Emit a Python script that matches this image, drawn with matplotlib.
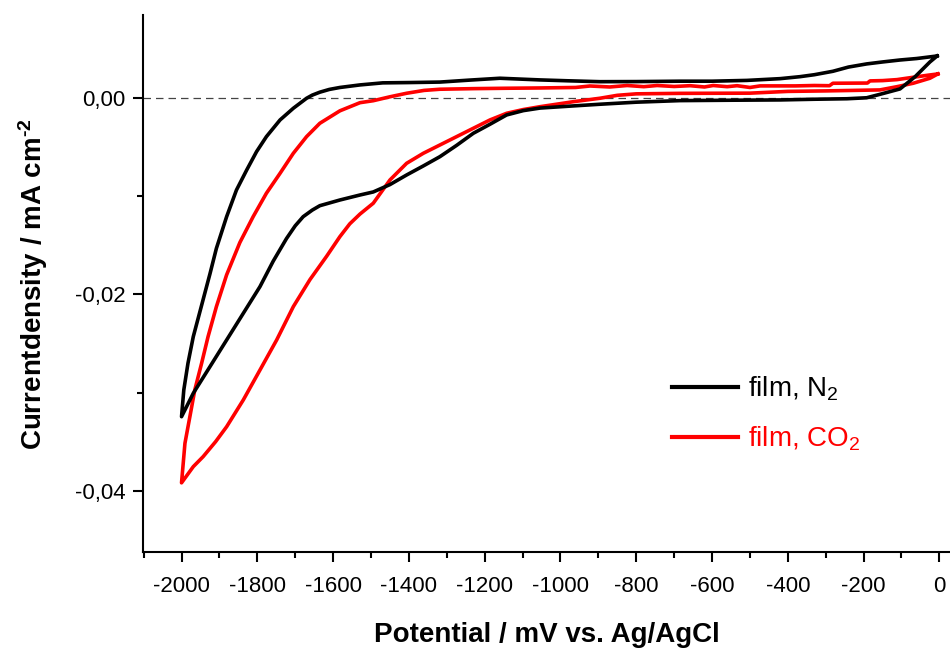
import matplotlib
matplotlib.use("Agg")
import matplotlib.pyplot as plt
from matplotlib.ticker import MultipleLocator, FuncFormatter

plt.rcParams['font.family'] = ['Liberation Sans', 'DejaVu Sans']
plt.rcParams['axes.unicode_minus'] = False
plt.rcParams['mathtext.fontset'] = 'custom'
plt.rcParams['mathtext.default'] = 'regular'
plt.rcParams['mathtext.rm'] = 'Liberation Sans:bold'

# Cyclic voltammogram of the film under N2: potential (mV) and current density (mA cm^-2)
n2_potential = [-6, -60, -104, -150, -192, -240, -281, -330, -368, -420, -508,
                -600, -685, -800, -896, -980, -1054, -1160, -1240, -1318, -1400,
                -1469, -1529, -1582, -1610, -1635, -1655, -1670, -1705, -1740,
                -1776, -1802, -1828, -1855, -1881, -1908, -1925, -1947, -1969,
                -1983, -1994, -2000,
                -1969, -1925, -1881, -1837, -1793, -1758, -1723, -1700, -1679,
                -1655, -1635, -1582, -1529, -1494, -1450, -1406, -1362, -1318,
                -1274, -1230, -1186, -1142, -1098, -1054, -966, -896, -800,
                -685, -550, -420, -330, -244, -192, -157, -104, -64, -25, -6]
n2_current = [0.00431, 0.00405, 0.00390, 0.00370, 0.00350, 0.00318, 0.00275,
              0.00240, 0.00220, 0.00200, 0.00182, 0.00174, 0.00174, 0.00170,
              0.00169, 0.00178, 0.00187, 0.00204, 0.00185, 0.00165, 0.00160,
              0.00157, 0.00136, 0.00110, 0.00090, 0.00062, 0.00032, 0.00000,
              -0.00102, -0.00221, -0.00391, -0.00544, -0.00731, -0.00935,
              -0.01207, -0.01530, -0.01790, -0.02110, -0.02430, -0.02701,
              -0.02973, -0.03246,
              -0.03007, -0.02736, -0.02464, -0.02192, -0.01920, -0.01660,
              -0.01430, -0.01300, -0.01207, -0.01140, -0.01095, -0.01037,
              -0.00986, -0.00955, -0.00880, -0.00782, -0.00690, -0.00595,
              -0.00480, -0.00357, -0.00265, -0.00170, -0.00126, -0.00100,
              -0.00078, -0.00061, -0.00040, -0.00024, -0.00020, -0.00017,
              -0.00010, -0.00005, 0.00005, 0.00040, 0.00095, 0.00220, 0.00370,
              0.00431]

# Cyclic voltammogram of the film under CO2
co2_potential = [-4, -30, -69, -112, -150, -183, -190, -281, -290, -330, -380,
                 -473, -500, -534, -560, -597, -620, -658, -700, -745, -780,
                 -824, -870, -922, -960, -1054, -1142, -1230, -1318, -1360,
                 -1406, -1450, -1494, -1529, -1582, -1635, -1670, -1705, -1740,
                 -1776, -1811, -1846, -1881, -1908, -1930, -1947, -1965,
                 -1978, -1991, -2000,
                 -1969, -1943, -1910, -1881, -1837, -1793, -1749, -1705, -1661,
                 -1617, -1582, -1556, -1529, -1494, -1450, -1406, -1362, -1318,
                 -1274, -1230, -1186, -1142, -1098, -1054, -966, -896, -850,
                 -800, -685, -500, -400, -300, -157, -112, -69, -25, -4]
co2_current = [0.00248, 0.00235, 0.00214, 0.00190, 0.00180, 0.00177, 0.00155,
               0.00153, 0.00128, 0.00130, 0.00126, 0.00126, 0.00110, 0.00128,
               0.00118, 0.00130, 0.00115, 0.00128, 0.00120, 0.00130, 0.00118,
               0.00130, 0.00115, 0.00125, 0.00110, 0.00105, 0.00102, 0.00098,
               0.00092, 0.00080, 0.00051, 0.00015, -0.00025, -0.00045,
               -0.00128, -0.00255, -0.00391, -0.00561, -0.00765, -0.00968,
               -0.01207, -0.01470, -0.01800, -0.02124, -0.02430,
               -0.02701, -0.02973, -0.03246, -0.03517, -0.03920,
               -0.03755, -0.03653, -0.03500, -0.03348, -0.03075, -0.02770,
               -0.02464, -0.02124, -0.01848, -0.01610, -0.01410, -0.01280,
               -0.01180, -0.01070, -0.00833, -0.00663, -0.00561, -0.00476,
               -0.00391, -0.00306, -0.00221, -0.00153, -0.00115, -0.00086,
               -0.00035, 0.00000, 0.00030, 0.00045, 0.00050, 0.00052,
               0.00070, 0.00075, 0.00085, 0.00118, 0.00153, 0.00204, 0.00248]

labels = ['film, N$_2$', 'film, CO$_2$']
colors = ['black', '#ff0000']

fig = plt.figure(figsize=(9.5, 6.48), dpi=100)
ax = fig.add_axes([0.1508, 0.1477, 0.8492, 0.8292])

ax.axhline(0, color='#444444', lw=0.9, ls=(0, (6, 4)), zorder=1)
ax.plot(n2_potential, n2_current, color=colors[0], lw=2.6, label=labels[0],
        zorder=3, solid_joinstyle='round')
ax.plot(co2_potential, co2_current, color=colors[1], lw=2.6, label=labels[1],
        zorder=2, solid_joinstyle='round')

ax.set_xlim(-2101, 28)
ax.set_ylim(-0.04628, 0.00849)

ax.xaxis.set_major_locator(MultipleLocator(200))
ax.xaxis.set_minor_locator(MultipleLocator(100))
ax.yaxis.set_major_locator(MultipleLocator(0.02))
ax.yaxis.set_minor_locator(MultipleLocator(0.01))
ax.xaxis.set_major_formatter(FuncFormatter(lambda v, p: f"{v:.0f}"))
ax.yaxis.set_major_formatter(
    FuncFormatter(lambda v, p: f"{v:.2f}".replace('.', ',').replace('-0,00', '0,00')))

for side in ['top', 'right']:
    ax.spines[side].set_visible(False)
for side in ['left', 'bottom']:
    ax.spines[side].set_linewidth(1.5)

ax.tick_params(which='major', direction='out', length=7, width=1.5, labelsize=16)
ax.tick_params(which='minor', direction='out', length=4, width=1.5)
ax.tick_params(axis='x', which='major', pad=10)
ax.tick_params(axis='y', which='major', pad=6)

ax.set_xlabel('Potential / mV vs. Ag/AgCl', fontsize=20, fontweight='bold', labelpad=18)
ax.set_ylabel('Currentdensity / mA cm$^{\\text{-2}}$', fontsize=20,
              fontweight='bold', labelpad=18)

leg = ax.legend(loc='upper left', bbox_to_anchor=(0.655, 0.33), frameon=False,
                fontsize=20, handlelength=2.4, handletextpad=0.35, labelspacing=0.75,
                borderpad=0, borderaxespad=0, labelcolor='linecolor')
for line in leg.get_lines():
    line.set_linewidth(3)

fig.savefig('out.png', dpi=100)
